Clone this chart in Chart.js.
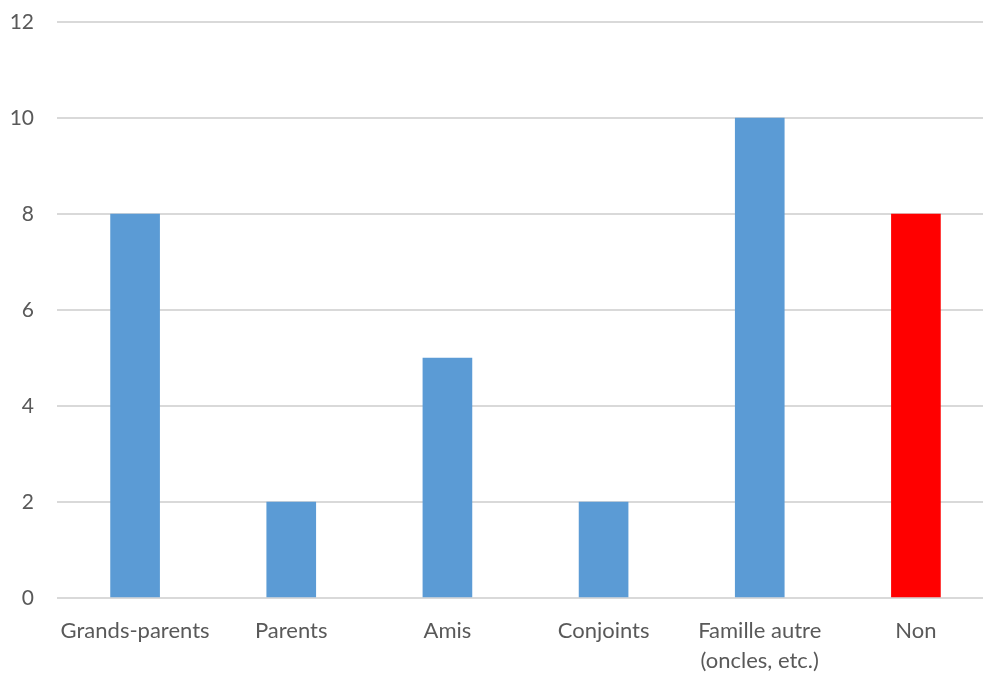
<!DOCTYPE html>
<html>
<head>
<meta charset="utf-8">
<script src="https://cdn.jsdelivr.net/npm/chart.js@4"></script>
<style>
  html, body { margin: 0; padding: 0; background: #fff; overflow: hidden; }
  #wrap { width: 994px; height: 673px; }
</style>
</head>
<body>
<div id="wrap"><canvas id="chart"></canvas></div>
<script>
'use strict';

// Données du graphique
const categories = [
  'Grands-parents',
  'Parents',
  'Amis',
  'Conjoints',
  ['Famille autre', '(oncles, etc.)'],
  'Non',
];
const values = [8, 2, 5, 2, 10, 8];
const barColors = ['#5B9BD5', '#5B9BD5', '#5B9BD5', '#5B9BD5', '#5B9BD5', '#FF0000'];
const yTicks = [0, 2, 4, 6, 8, 10, 12];

const ctx = document.getElementById('chart').getContext('2d');
new Chart(ctx, {
  type: 'bar',
  data: {
    labels: categories,
    datasets: [
      {
        data: values,
        backgroundColor: barColors,
        borderWidth: 0,
        barThickness: 49,
      },
    ],
  },
  options: {
    responsive: true,
    maintainAspectRatio: false,
    animation: false,
    layout: { autoPadding: false, padding: { top: 22, left: 0, right: 0, bottom: 0 } },
    plugins: {
      legend: { display: false },
      tooltip: { enabled: false },
    },
    scales: {
      x: {
        grid: { display: false },
        border: { display: false },
        ticks: {
          color: '#595959',
          font: { family: 'Lato', size: 22, lineHeight: 1.36 },
          maxRotation: 0,
          autoSkip: false,
          padding: 10,
        },
        afterFit: scale => { scale.height = 75; },
      },
      y: {
        min: 0,
        max: 12,
        afterBuildTicks: scale => {
          scale.ticks = yTicks.map(v => ({ value: v }));
        },
        grid: { color: '#d9d9d9', lineWidth: 2, drawTicks: false },
        border: { display: false },
        ticks: {
          color: '#595959',
          font: { family: 'Lato', size: 21 },
          padding: 23,
        },
        afterFit: scale => {
          scale.width = 57;
          scale.paddingTop = 0;
          scale.paddingBottom = 0;
        },
      },
    },
  },
});
</script>
</body>
</html>
